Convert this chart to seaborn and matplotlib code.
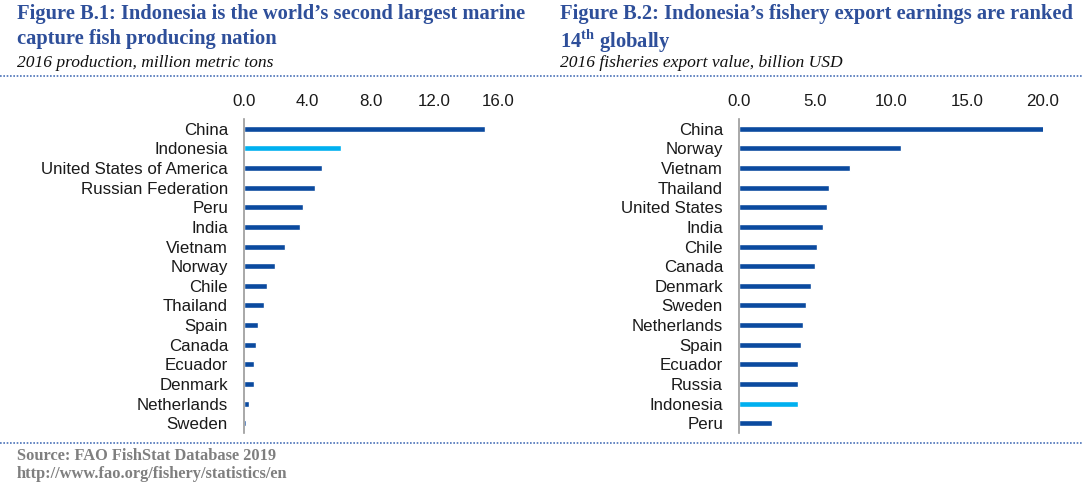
import matplotlib
matplotlib.use("Agg")
import matplotlib.pyplot as plt
import seaborn as sns
import pandas as pd

# -----------------------------------------------------------
# Data
# -----------------------------------------------------------

# Figure B.1: 2016 marine capture production, million metric tons
prod_countries = ["China", "Indonesia", "United States of America", "Russian Federation",
                  "Peru", "India", "Vietnam", "Norway", "Chile", "Thailand", "Spain",
                  "Canada", "Ecuador", "Denmark", "Netherlands", "Sweden"]
prod_values = [15.2, 6.1, 4.9, 4.45, 3.7, 3.55, 2.6, 1.95, 1.45, 1.27, 0.86,
               0.78, 0.65, 0.61, 0.3, 0.13]
prod_ticks = [0, 4, 8, 12, 16]

# Figure B.2: 2016 fisheries export value, billion USD
exp_countries = ["China", "Norway", "Vietnam", "Thailand", "United States", "India",
                 "Chile", "Canada", "Denmark", "Sweden", "Netherlands", "Spain",
                 "Ecuador", "Russia", "Indonesia", "Peru"]
exp_values = [20.05, 10.68, 7.28, 5.9, 5.79, 5.53, 5.11, 5.0, 4.72, 4.43, 4.21, 4.1,
              3.9, 3.9, 3.86, 2.2]
exp_ticks = [0, 5, 10, 15, 20]

dark_blue = "#0B4A9F"
light_blue = "#00B0F0"
title_blue = "#2E4F9A"

# -----------------------------------------------------------
# Figure
# -----------------------------------------------------------
sns.set_style("white")
plt.rcParams["font.family"] = ["Liberation Sans", "DejaVu Sans"]
plt.rcParams["mathtext.fontset"] = "custom"
plt.rcParams["mathtext.rm"] = "Liberation Serif:bold"

fig = plt.figure(figsize=(10.83, 4.86), dpi=100)
W, H = 1083, 486


def px_axes(x0, y0, x1, y1):
    # pixel box (top-left origin) -> figure fraction axes
    return fig.add_axes([x0 / W, 1 - y1 / H, (x1 - x0) / W, (y1 - y0) / H])


def draw_panel(ax, countries, values, ticks):
    df = pd.DataFrame({"Country": countries, "Value": values})
    df["Highlight"] = ["yes" if c == "Indonesia" else "no" for c in countries]
    sns.barplot(data=df, x="Value", y="Country", hue="Highlight",
                palette={"yes": light_blue, "no": dark_blue},
                orient="h", width=0.3, dodge=False, legend=False,
                saturation=1, ax=ax)
    ax.set_xlim(ticks[0], ticks[-1])
    ax.set_ylim(len(countries) - 0.5, -0.5)
    ax.set_xticks(ticks)
    ax.set_xticklabels([f"{t:.1f}" for t in ticks])
    ax.xaxis.tick_top()
    ax.tick_params(axis="x", length=0, pad=7.5, labelsize=12.2, labelcolor="#1a1a1a")
    ax.tick_params(axis="y", length=0, pad=11.5, labelsize=12.2, labelcolor="#1a1a1a")
    ax.set_xlabel("")
    ax.set_ylabel("")
    for s in ["top", "right", "bottom"]:
        ax.spines[s].set_visible(False)
    ax.spines["left"].set_color("#9a9a9a")
    ax.spines["left"].set_linewidth(1.2)
    ax.grid(False)


ax1 = px_axes(244, 119, 498, 433)
draw_panel(ax1, prod_countries, prod_values, prod_ticks)

ax2 = px_axes(739, 119, 1043, 433)
draw_panel(ax2, exp_countries, exp_values, exp_ticks)

# Titles and subtitles
serif = ["Liberation Serif", "DejaVu Serif"]
fig.text(17 / W, 1 - 4 / H,
         "Figure B.1: Indonesia is the world\u2019s second largest marine\ncapture fish producing nation",
         ha="left", va="top", fontsize=14.8, fontweight="bold", color=title_blue,
         family=serif, linespacing=1.35)
fig.text(560 / W, 1 - 4 / H,
         "Figure B.2: Indonesia\u2019s fishery export earnings are ranked\n14$^{\\mathrm{th}}$ globally",
         ha="left", va="top", fontsize=14.8, fontweight="bold", color=title_blue,
         family=serif, linespacing=1.15)
fig.text(17 / W, 1 - 67 / H, "2016 production, million metric tons",
         ha="left", va="baseline", fontsize=12.6, style="italic", color="#111111",
         family=serif)
fig.text(560 / W, 1 - 67 / H, "2016 fisheries export value, billion USD",
         ha="left", va="baseline", fontsize=12.6, style="italic", color="#111111",
         family=serif)

# Dotted separators
for y in [76, 443]:
    fig.add_artist(plt.Line2D([0, 1], [1 - y / H, 1 - y / H], transform=fig.transFigure,
                              color="#4A72B8", linewidth=1.2, linestyle=(0, (1, 1))))

# Source
fig.text(17 / W, 1 - 456 / H, "Source: FAO FishStat Database 2019",
         ha="left", va="center", fontsize=11.8, fontweight="bold", color="#7f7f7f",
         family=serif)
fig.text(17 / W, 1 - 474 / H, "http://www.fao.org/fishery/statistics/en",
         ha="left", va="center", fontsize=11.8, fontweight="bold", color="#7f7f7f",
         family=serif)

fig.savefig("out.png", dpi=100)
